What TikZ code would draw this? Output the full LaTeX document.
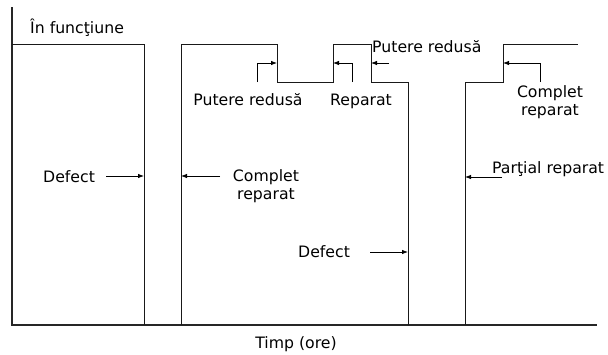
\documentclass[tikz,border=0pt]{standalone}
\usepackage{fontspec}
\setmainfont{DejaVu Sans}
\usetikzlibrary{arrows.meta}
\tikzset{lbl/.style={inner sep=0pt,font=\fontsize{15.7}{18}\selectfont},
 lbltwo/.style={lbl,align=center},
 axis/.style={line width=1.7pt,draw=black!85},
 wave/.style={line width=0.9pt,draw=black!90},
 arr/.style={-{Latex[length=6pt,width=4.5pt]},line width=0.8pt}}

\begin{document}
\begin{tikzpicture}[x=1pt,y=-1pt]
\useasboundingbox (0,0) rectangle (608,354);
% axes
\draw[axis](12,7)--(12,325)--(597,325);
% state of the unit in time
\draw[wave](12,44)--(144,44)--(144,325);
\draw[wave](181,325)--(181,44)--(277,44)--(277,82)--(333,82)--(333,44)--(371,44)--(371,82)--(408,82)--(408,325);
\draw[wave](465,325)--(465,82)--(503,82)--(503,44)--(578,44);
% points on the curve
\coordinate(hDefA) at (144,176);\coordinate(hCrA) at (181,176);
\coordinate(hPrA) at (277,63);\coordinate(hRep) at (333,63);
\coordinate(hPrB) at (371,63);\coordinate(hDefB) at (408,252);
\coordinate(hPart) at (465,177);\coordinate(hCrB) at (503,63);
% arrow tails
\coordinate(tDefA) at (106,176);\coordinate(tCrA) at (220,176);
\coordinate(tPrA) at (257,82);\coordinate(tRep) at (352,82);
\coordinate(tPrB) at (389,63);\coordinate(tDefB) at (370,252);
\coordinate(tPart) at (502,177);\coordinate(tCrB) at (540,82);
% labels
\node[lbl,anchor=base west](run) at (30,33){În funcţiune};
\node[lbl,anchor=base](time) at (296,348.5){Timp (ore)};
\node[lbl,anchor=base west](dfA) at (43,182){Defect};
\node[lbltwo](crA) at (266,186){Complet\\reparat};
\node[lbl,anchor=base](prA) at (248,105){Putere redusă};
\node[lbl,anchor=base](rep) at (361,105){Reparat};
\node[lbl,anchor=base west](prB) at (372,52){Putere redusă};
\node[lbl,anchor=base west](dfB) at (298,257){Defect};
\node[lbl,anchor=base west](part) at (492,173){Parţial reparat};
\node[lbltwo](crB) at (550,102){Complet\\reparat};
% pointers
\draw[arr](tDefA)--(hDefA);\draw[arr](tCrA)--(hCrA);
\draw[arr](tPrA)|-(hPrA);\draw[arr](tRep)|-(hRep);
\draw[arr](tPrB)--(hPrB);\draw[arr](tDefB)--(hDefB);
\draw[arr](tPart)--(hPart);\draw[arr](tCrB)|-(hCrB);
\end{tikzpicture}
\end{document}
